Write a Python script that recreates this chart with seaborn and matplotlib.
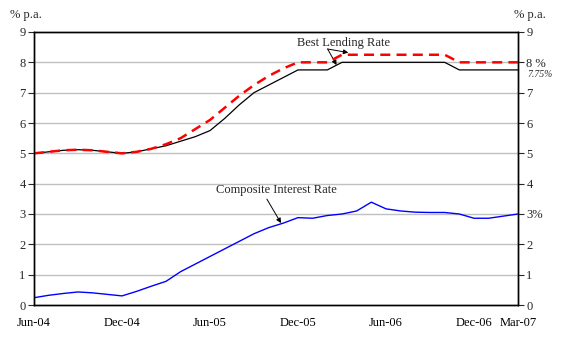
import numpy as np
import pandas as pd
import matplotlib
matplotlib.use("Agg")
import matplotlib.pyplot as plt
import seaborn as sns

months = ["Jun-04","Jul-04","Aug-04","Sep-04","Oct-04","Nov-04","Dec-04",
          "Jan-05","Feb-05","Mar-05","Apr-05","May-05","Jun-05","Jul-05",
          "Aug-05","Sep-05","Oct-05","Nov-05","Dec-05","Jan-06","Feb-06",
          "Mar-06","Apr-06","May-06","Jun-06","Jul-06","Aug-06","Sep-06",
          "Oct-06","Nov-06","Dec-06","Jan-07","Feb-07","Mar-07"]

blr_black = [5.0, 5.05, 5.1, 5.12, 5.1, 5.05, 5.0,
             5.05, 5.15, 5.25, 5.4, 5.55, 5.75, 6.15,
             6.6, 7.0, 7.25, 7.5, 7.75, 7.75, 7.75,
             8.0, 8.0, 8.0, 8.0, 8.0, 8.0, 8.0,
             8.0, 7.75, 7.75, 7.75, 7.75, 7.75]

blr_red = [5.0, 5.05, 5.1, 5.12, 5.1, 5.05, 5.0,
           5.05, 5.15, 5.3, 5.5, 5.8, 6.1, 6.5,
           6.9, 7.25, 7.55, 7.8, 8.0, 8.0, 8.0,
           8.25, 8.25, 8.25, 8.25, 8.25, 8.25, 8.25,
           8.25, 8.0, 8.0, 8.0, 8.0, 8.0]

composite = [0.24, 0.32, 0.38, 0.43, 0.40, 0.35, 0.30,
             0.45, 0.62, 0.78, 1.1, 1.35, 1.6, 1.85,
             2.1, 2.35, 2.55, 2.7, 2.88, 2.86, 2.95,
             3.0, 3.1, 3.39, 3.17, 3.1, 3.06, 3.05,
             3.05, 3.0, 2.86, 2.86, 2.93, 3.0]

xtick_labels = ["Jun-04", "Dec-04", "Jun-05", "Dec-05", "Jun-06", "Dec-06", "Mar-07"]
left_ylabels = ["0", "1", "2", "3", "4", "5", "6", "7", "8", "9"]
right_ylabels = ["0", "1", "2", "3%", "4", "5", "6", "7", "8 %", "9"]

df = pd.DataFrame({"m": np.arange(len(months)), "month": months,
                   "black": blr_black, "red": blr_red, "composite": composite})

sns.set_style("white")
plt.rcParams["font.family"] = ["Liberation Serif", "DejaVu Serif"]
plt.rcParams["font.size"] = 9

fig = plt.figure(figsize=(5.68, 3.40), dpi=100)
ax = fig.add_axes([34/568, 1-305/340, (518-34)/568, (305-32)/340])

for v in range(1, 9):
    ax.axhline(v, color="#c0c0c0", lw=1, zorder=0)

sns.lineplot(data=df, x="m", y="black", ax=ax, color="black", lw=0.9, zorder=3)
sns.lineplot(data=df, x="m", y="composite", ax=ax, color="blue", lw=1.0, zorder=3)
sns.lineplot(data=df, x="m", y="red", ax=ax, color="red", lw=1.8, zorder=4,
             dashes=False, linestyle=(0, (4, 2.5)))

ax.set_xlim(0, len(months) - 1)
ax.set_ylim(0, 9)
ax.set_xlabel("")
ax.set_ylabel("")

tick_pos = [months.index(l) for l in xtick_labels]
ax.set_xticks(tick_pos)
ax.set_xticklabels(xtick_labels)
ax.set_yticks(range(10))
ax.set_yticklabels(left_ylabels)
ax.tick_params(axis="x", direction="in", length=4, width=0.8, pad=9, colors="black")
ax.tick_params(axis="y", direction="out", length=4, width=0.8, pad=2, left=True)

ax2 = ax.twinx()
ax2.set_ylim(0, 9)
ax2.set_yticks(range(10))
ax2.set_yticklabels(right_ylabels)
ax2.tick_params(axis="y", direction="out", length=4, width=0.8, pad=2, right=True)

for a in (ax, ax2):
    for s in a.spines.values():
        s.set_color("black")
        s.set_linewidth(1.0)
        s.set_visible(True)

ax2.text(1.02, 7.6, "7.75%", transform=ax.get_yaxis_transform(),
         fontsize=7, style="italic", ha="left", va="center")

fig.text(10/568, 1-15/340, "% p.a.", ha="left", va="center", fontsize=9)
fig.text(514/568, 1-15/340, "% p.a.", ha="left", va="center", fontsize=9)

arrow_kw = dict(arrowstyle="-|>", color="black", lw=0.7,
                shrinkA=0, shrinkB=0, mutation_scale=7)
ax.text(21.13, 8.63, "Best Lending Rate", ha="center", va="center", fontsize=9)
ax.annotate("", xy=(21.43, 8.32), xytext=(20.02, 8.44), arrowprops=arrow_kw)
ax.annotate("", xy=(20.63, 7.91), xytext=(20.02, 8.44), arrowprops=arrow_kw)

ax.text(16.53, 3.79, "Composite Interest Rate", ha="center", va="center", fontsize=9)
ax.annotate("", xy=(16.84, 2.70), xytext=(15.88, 3.49), arrowprops=arrow_kw)

fig.savefig("out.png", dpi=100)
